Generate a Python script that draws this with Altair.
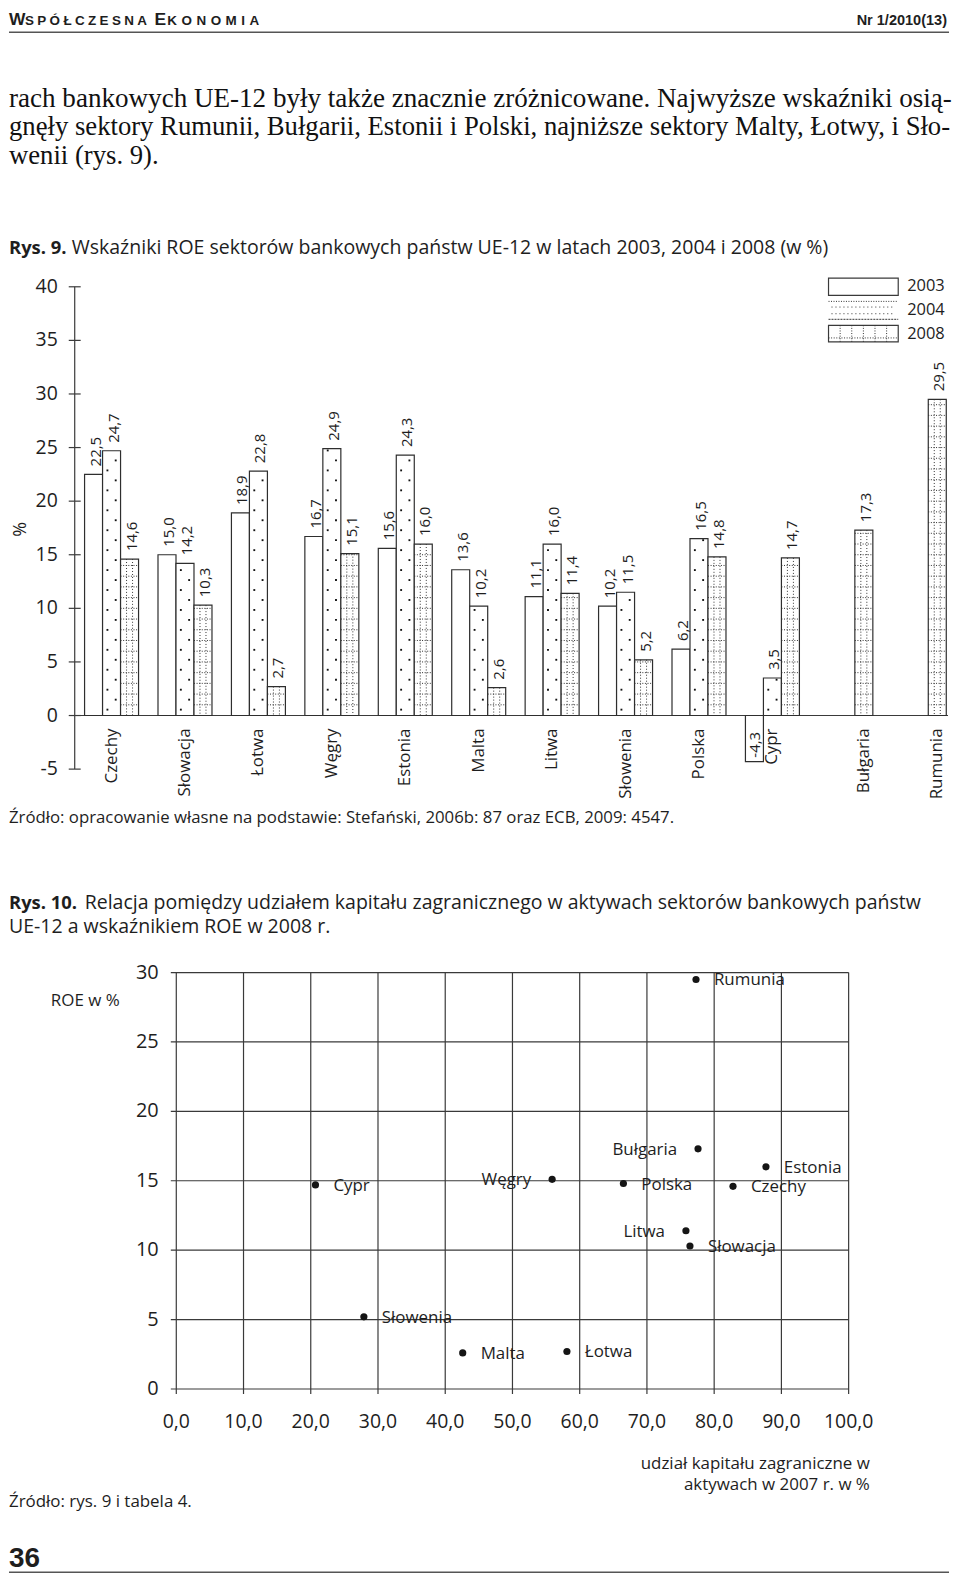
import altair as alt
import pandas as pd

# ---------------- data ----------------
COUNTRIES = ["Czechy", "Słowacja", "Łotwa", "Węgry", "Estonia", "Malta",
             "Litwa", "Słowenia", "Polska", "Cypr", "Bułgaria", "Rumunia"]
YEARS = ["2003", "2004", "2008"]
ROE_2003 = [22.5, 15.0, 18.9, 16.7, 15.6, 13.6, 11.1, 10.2, 6.2, -4.3, None, None]
ROE_2004 = [24.7, 14.2, 22.8, 24.9, 24.3, 10.2, 16.0, 11.5, 16.5, 3.5, None, None]
ROE_2008 = [14.6, 10.3, 2.7, 15.1, 16.0, 2.6, 11.4, 5.2, 14.8, 14.7, 17.3, 29.5]
BAR_Y_TICKS = [-5, 0, 5, 10, 15, 20, 25, 30, 35, 40]

SC_COUNTRIES = ["Rumunia", "Bułgaria", "Estonia", "Czechy", "Polska", "Węgry",
                "Cypr", "Litwa", "Słowacja", "Słowenia", "Malta", "Łotwa"]
SC_FOREIGN_SHARE = [77.3, 77.6, 87.7, 82.8, 66.5, 55.9, 20.7, 75.8, 76.4, 27.9, 42.6, 58.1]
SC_ROE_2008 = [29.5, 17.3, 16.0, 14.6, 14.8, 15.1, 14.7, 11.4, 10.3, 5.2, 2.6, 2.7]
SC_LABEL_LEFT = ["Bułgaria", "Węgry", "Litwa"]
SC_X_TICKS = [0, 10, 20, 30, 40, 50, 60, 70, 80, 90, 100]
SC_Y_TICKS = [0, 5, 10, 15, 20, 25, 30]

PARAGRAPH = [
    "rach bankowych UE-12 były także znacznie zróżnicowane. Najwyższe wskaźniki osią-",
    "gnęły sektory Rumunii, Bułgarii, Estonii i Polski, najniższe sektory Malty, Łotwy, i Sło-",
    "wenii (rys. 9).",
]
CAP9_BOLD = "Rys. 9."
CAP9 = "Wskaźniki ROE sektorów bankowych państw UE-12 w latach 2003, 2004 i 2008 (w %)"
SRC9 = "Źródło: opracowanie własne na podstawie: Stefański, 2006b: 87 oraz ECB, 2009: 4547."
CAP10_BOLD = "Rys. 10."
CAP10_1 = "Relacja pomiędzy udziałem kapitału zagranicznego w aktywach sektorów bankowych państw"
CAP10_2 = "UE-12 a wskaźnikiem ROE w 2008 r."
SC_YTITLE = "ROE w %"
SC_XTITLE = ["udział kapitału zagraniczne w", "aktywach w 2007 r. w  %"]
SRC10 = "Źródło: rys. 9 i tabela 4."

# ---------------- layout ----------------
W = 944
PA_H, PB_H, PC_H = 262, 590, 717
SANS = "Open Sans"
SERIF = "Liberation Serif"
HEAD = "Liberation Sans"
INK = "#1e1e1e"
LINE = "#3a3a3a"


def label(s, x, y, size=17, weight="normal", align="left", baseline="middle",
          font=SANS, angle=0, color=INK):
    mk = dict(align=align, baseline=baseline, font=font, fontSize=size,
              fontWeight=weight, color=color)
    if angle:
        mk["angle"] = angle
    return alt.Chart(pd.DataFrame({"t": [s]})).mark_text(**mk).encode(
        x=alt.value(x), y=alt.value(y), text="t:N")


def rule(x1, x2, y1, y2, width=1.2, color=LINE, dash=None):
    mk = dict(stroke=color, strokeWidth=width)
    if dash:
        mk["strokeDash"] = dash
    enc = dict(x=alt.value(x1), x2=alt.value(x2), y=alt.value(y1), y2=alt.value(y2))
    return alt.Chart(pd.DataFrame({"a": [0]})).mark_rule(**mk).encode(**enc)


def rect(x1, x2, y1, y2):
    return alt.Chart(pd.DataFrame({"a": [0]})).mark_rect(
        fill="white", stroke=LINE, strokeWidth=1.2).encode(
        x=alt.value(x1), x2=alt.value(x2), y=alt.value(y1), y2=alt.value(y2))


def spaced(s, sp):
    return sp.join(s)


# ---------------- panel A: header, paragraph, caption ----------------
panel_a = alt.layer(
    label("W", 0, 0, 17.5, "bold", baseline="top", font=HEAD),
    label(spaced("SPÓŁCZESNA", "\u2005"), 16, 3, 13.5, "bold", baseline="top", font=HEAD),
    label("E", 146, 0, 17.5, "bold", baseline="top", font=HEAD),
    label(spaced("KONOMIA", "\u2004"), 159, 3, 13.5, "bold", baseline="top", font=HEAD),
    label("Nr 1/2010(13)", 942, 2, 14.6, "bold", align="right",
          baseline="top", font=HEAD),
    rule(0, W, 21, 21, 1.6, "#555"),
    label(PARAGRAPH[0], 0, 96.3, 27.2, baseline="alphabetic", font=SERIF, color="#111"),
    label(PARAGRAPH[1], 0, 124.7, 26.8, baseline="alphabetic", font=SERIF, color="#111"),
    label(PARAGRAPH[2], 0, 153, 26.8, baseline="alphabetic", font=SERIF, color="#111"),
    label(CAP9_BOLD, 0, 243.7, 18.5, "bold", baseline="alphabetic"),
    label(CAP9, 63, 243.7, 19.6, baseline="alphabetic"),
).properties(width=W, height=PA_H)

# ---------------- panel B: bar chart ----------------
B_Y0, B_PX = 445.2, 10.764          # pixel of value 0, pixels per %-point
B_X0, B_STEP, B_BAR = 103.0, 73.74, 18.07
BW = B_BAR / B_STEP
yB = alt.Scale(domain=[(B_Y0 - PB_H) / B_PX, B_Y0 / B_PX], nice=False, zero=False)
xB = alt.Scale(domain=[-B_X0 / B_STEP, (W - B_X0) / B_STEP], nice=False, zero=False)

rows = []
for gi, c in enumerate(COUNTRIES):
    for yi, arr in enumerate([ROE_2003, ROE_2004, ROE_2008]):
        v = arr[gi]
        if v is not None:
            rows.append({"country": c, "year": YEARS[yi], "value": v, "gi": gi, "yi": yi})
bars = pd.DataFrame(rows)

base = alt.Chart(bars).transform_calculate(
    x0=f"datum.gi - {1.5 * BW} + datum.yi * {BW}"
).transform_calculate(
    x1=f"datum.x0 + {BW}"
).transform_calculate(
    xc=f"datum.x0 + {BW / 2}"
).transform_calculate(
    lab="replace(replace(format(datum.value, '.1f'), '.', ','), '\u2212', '-')"
)

XB = lambda f: alt.X(f, scale=xB, axis=None)
YB = lambda f: alt.Y(f, scale=yB, axis=None)

bar_rects = base.mark_rect(fill="white", stroke="#2e2e2e", strokeWidth=1.2).encode(
    x=XB("x0:Q"), x2="x1:Q", y=YB("value:Q"), y2=alt.datum(0))

dots04 = base.transform_filter("datum.year == '2004'").transform_calculate(
    n="floor((datum.value - 0.55) / 0.93)"
).transform_calculate(
    ks="sequence(0, datum.n + 1)"
).transform_flatten(["ks"]).transform_calculate(
    lev="0.55 + datum.ks * 0.93"
).transform_calculate(
    dxp=f"datum.x0 + (datum.ks % 2 == 0 ? 0.27 : 0.73) * {BW}"
).mark_square(size=3.5, color="#111", opacity=1).encode(
    x=XB("dxp:Q"), y=YB("lev:Q"))

h08 = base.transform_filter("datum.year == '2008'").transform_calculate(
    hs="sequence(1, datum.value, 1)"
).transform_flatten(["hs"]).mark_rule(
    stroke="#333", strokeWidth=1, strokeDash=[1, 1.6]).encode(
    x=XB("x0:Q"), x2="x1:Q", y=YB("hs:Q"))

v08 = base.transform_filter("datum.year == '2008'").transform_calculate(
    vv=f"[datum.x0 + {BW / 3}, datum.x0 + {2 * BW / 3}]"
).transform_flatten(["vv"]).mark_rule(
    stroke="#333", strokeWidth=1, strokeDash=[1, 2]).encode(
    x=XB("vv:Q"), y=YB("value:Q"), y2=alt.datum(0))

val_pos = base.transform_filter("datum.value >= 0").mark_text(
    angle=270, align="left", baseline="middle", dx=8, dy=2, fontSize=15,
    font=SANS, color=INK).encode(x=XB("xc:Q"), y=YB("value:Q"), text="lab:N")
val_neg = base.transform_filter("datum.value < 0").mark_text(
    angle=270, align="left", baseline="middle", dx=4, dy=1, fontSize=15,
    font=SANS, color=INK).encode(x=XB("xc:Q"), y=YB("value:Q"), text="lab:N")

cat_labels = base.transform_aggregate(
    mx="mean(xc)", groupby=["country"]
).mark_text(angle=270, align="right", baseline="middle", dx=-13, fontSize=17,
            font=SANS, color=INK).encode(
    x=XB("mx:Q"), y=alt.YDatum(0, scale=yB, axis=None), text="country:N")

tick_df = pd.DataFrame({"v": BAR_Y_TICKS})
b_ticks = alt.Chart(tick_df).mark_rule(stroke=LINE, strokeWidth=1.2).encode(
    x=alt.value(60), x2=alt.value(72), y=YB("v:Q"))
b_tick_labels = alt.Chart(tick_df).transform_calculate(
    lab="toString(datum.v)").mark_text(
    align="right", baseline="middle", fontSize=19.5, font=SANS, color=INK).encode(
    x=alt.value(49), y=YB("v:Q"), text="lab:N")
b_axis = alt.Chart(pd.DataFrame({"a": [0]})).mark_rule(stroke=LINE, strokeWidth=1.2).encode(
    x=alt.value(66), y=alt.YDatum(40, scale=yB, axis=None), y2=alt.datum(-5))
b_zero = alt.Chart(pd.DataFrame({"a": [0]})).mark_rule(stroke=LINE, strokeWidth=1.2).encode(
    x=alt.value(66), x2=alt.value(943), y=alt.YDatum(0, scale=yB, axis=None))

# legend
LX1, LX2 = 823, 893
legend = [
    rect(LX1, LX2, 6, 23.3),
    rule(LX1, LX2, 29.3, 29.3, 1, "#333", [1, 1.5]),
    rule(LX1 + 3, LX2 - 3, 35, 35, 1, "#333", [1, 3]),
    rule(LX1 + 3, LX2 - 3, 41.7, 41.7, 1, "#333", [1, 3]),
    rule(LX1, LX2, 47.3, 47.3, 1, "#333", [2, 1]),
    rect(LX1, LX2, 53.3, 70),
]
for k in range(1, 6):
    xx = LX1 + k * (LX2 - LX1) / 6
    legend.append(rule(xx, xx, 53.3, 70, 1, "#333", [1, 1.6]))
legend.append(rule(LX1, LX2, 66, 66, 1, "#333", [1, 1.6]))
for yr, yy in zip(YEARS, [14, 38.3, 61.7]):
    legend.append(label(yr, 902, yy, 16.5))

panel_b = alt.layer(
    b_axis, b_zero, b_ticks, b_tick_labels,
    bar_rects, dots04, h08, v08, val_pos, val_neg, cat_labels,
    label("%", 12, 258.3, 18, angle=270, align="center"),
    *legend,
    label(SRC9, 0, 548, 16.85),
).properties(width=W, height=PB_H)

# ---------------- panel C: scatter ----------------
C_X0, C_PX = 168.0, 6.752
C_Y0, C_PY = 531.5, 13.94
xC = alt.Scale(domain=[-C_X0 / C_PX, (W - C_X0) / C_PX], nice=False, zero=False)
yC = alt.Scale(domain=[(C_Y0 - PC_H) / C_PY, C_Y0 / C_PY], nice=False, zero=False)
XC = lambda f: alt.X(f, scale=xC, axis=None)
YC = lambda f: alt.Y(f, scale=yC, axis=None)

sc = pd.DataFrame({"country": SC_COUNTRIES, "share": SC_FOREIGN_SHARE, "roe": SC_ROE_2008})
xt = pd.DataFrame({"v": SC_X_TICKS})
yt = pd.DataFrame({"v": SC_Y_TICKS})

grid_v = alt.Chart(xt).mark_rule(stroke=LINE, strokeWidth=1.2).encode(
    x=XC("v:Q"), y=alt.YDatum(30, scale=yC, axis=None), y2=alt.datum(-5 / C_PY))
grid_h = alt.Chart(yt).mark_rule(stroke=LINE, strokeWidth=1.2).encode(
    x=alt.XDatum(-5.5 / C_PX, scale=xC, axis=None), x2=alt.datum(100), y=YC("v:Q"))
y_labels = alt.Chart(yt).transform_calculate(lab="toString(datum.v)").mark_text(
    align="right", baseline="middle", fontSize=20, font=SANS, color=INK).encode(
    x=alt.value(150.3), y=YC("v:Q"), text="lab:N")
x_labels = alt.Chart(xt).transform_calculate(
    lab="replace(format(datum.v, '.1f'), '.', ',')").mark_text(
    align="center", baseline="middle", fontSize=19.5, font=SANS, color=INK).encode(
    x=XC("v:Q"), y=alt.value(564.3), text="lab:N")
points = alt.Chart(sc).mark_circle(size=52, color="#151515", opacity=1).encode(
    x=XC("share:Q"), y=YC("roe:Q"))
lab_right = alt.Chart(sc).transform_filter(
    {"not": alt.FieldOneOfPredicate(field="country", oneOf=SC_LABEL_LEFT)}
).mark_text(align="left", baseline="middle", dx=18, dy=1, fontSize=17,
            font=SANS, color=INK).encode(
    x=XC("share:Q"), y=YC("roe:Q"), text="country:N")
lab_left = alt.Chart(sc).transform_filter(
    alt.FieldOneOfPredicate(field="country", oneOf=SC_LABEL_LEFT)
).mark_text(align="right", baseline="middle", dx=-21, dy=1, fontSize=17,
            font=SANS, color=INK).encode(
    x=XC("share:Q"), y=YC("roe:Q"), text="country:N")

panel_c = alt.layer(
    label(CAP10_BOLD, 0, 43.5, 18.5, "bold"),
    label(CAP10_1, 76, 43.5, 19.6),
    label(CAP10_2, 0, 67.2, 19.6),
    grid_v, grid_h, y_labels, x_labels, points, lab_right, lab_left,
    label(SC_YTITLE, 42, 142.3, 17),
    label(SC_XTITLE[0], 864.5, 607.3, 17, align="right"),
    label(SC_XTITLE[1], 864.5, 628.3, 17, align="right"),
    label(SRC10, 0, 645, 17),
    label("36", 0, 702.5, 28, "bold", font=HEAD),
    rule(0, W, 715.5, 715.5, 1.6, "#555"),
).properties(width=W, height=PC_H)

chart = alt.vconcat(panel_a, panel_b, panel_c, spacing=0, bounds="flush").properties(
    padding=0, background="white"
).configure_view(stroke=None)

chart.save("out.html", embed_options={"renderer": "svg", "actions": False})
